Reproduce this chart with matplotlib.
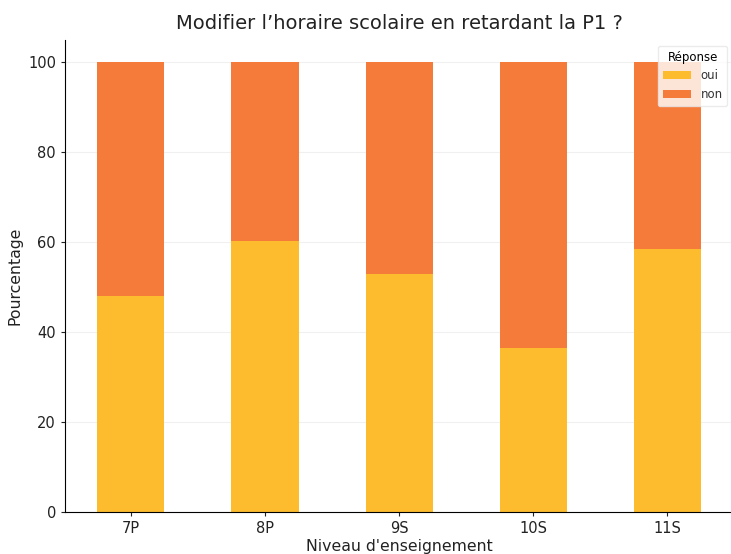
import numpy as np
import matplotlib
matplotlib.use("Agg")
import matplotlib.pyplot as plt

niveaux = ["7P", "8P", "9S", "10S", "11S"]
oui = [48.0, 60.2, 52.9, 36.5, 58.4]
non = [100 - v for v in oui]

COL_OUI = "#FCBC2E"
COL_NON = "#F57B3B"

fig = plt.figure(figsize=(7.31, 5.54), dpi=100)
ax = fig.add_axes([0.089, 0.076, 0.914, 0.852])

x = np.arange(len(niveaux))
ax.bar(x, oui, width=0.5, color=COL_OUI, label="oui", zorder=2)
ax.bar(x, non, width=0.5, bottom=oui, color=COL_NON, label="non", zorder=2)

ax.set_xlim(-0.49, 4.49)
ax.set_ylim(0, 105)
ax.set_yticks([0, 20, 40, 60, 80, 100])
ax.set_xticks(x)
ax.set_xticklabels(niveaux)
ax.tick_params(labelsize=10.5, colors="#222222", length=3)
ax.yaxis.grid(True, color="#f0f0f0", linewidth=0.8, zorder=0)
for s in ["top", "right"]:
    ax.spines[s].set_visible(False)

ax.set_xlabel("Niveau d'enseignement", fontsize=11.3, labelpad=2, color="#222222")
ax.set_ylabel("Pourcentage", fontsize=11.3, color="#222222")
ax.set_title("Modifier l\u2019horaire scolaire en retardant la P1 ?", fontsize=14,
             pad=8, color="#222222")

leg = ax.legend(title="Réponse", loc="upper right", fontsize=8.5, title_fontsize=8.5,
                frameon=True, framealpha=0.8, edgecolor="#e6e6e6",
                handlelength=2.4, borderaxespad=0.5, labelcolor="#333333")

fig.savefig("out.png", dpi=100)
